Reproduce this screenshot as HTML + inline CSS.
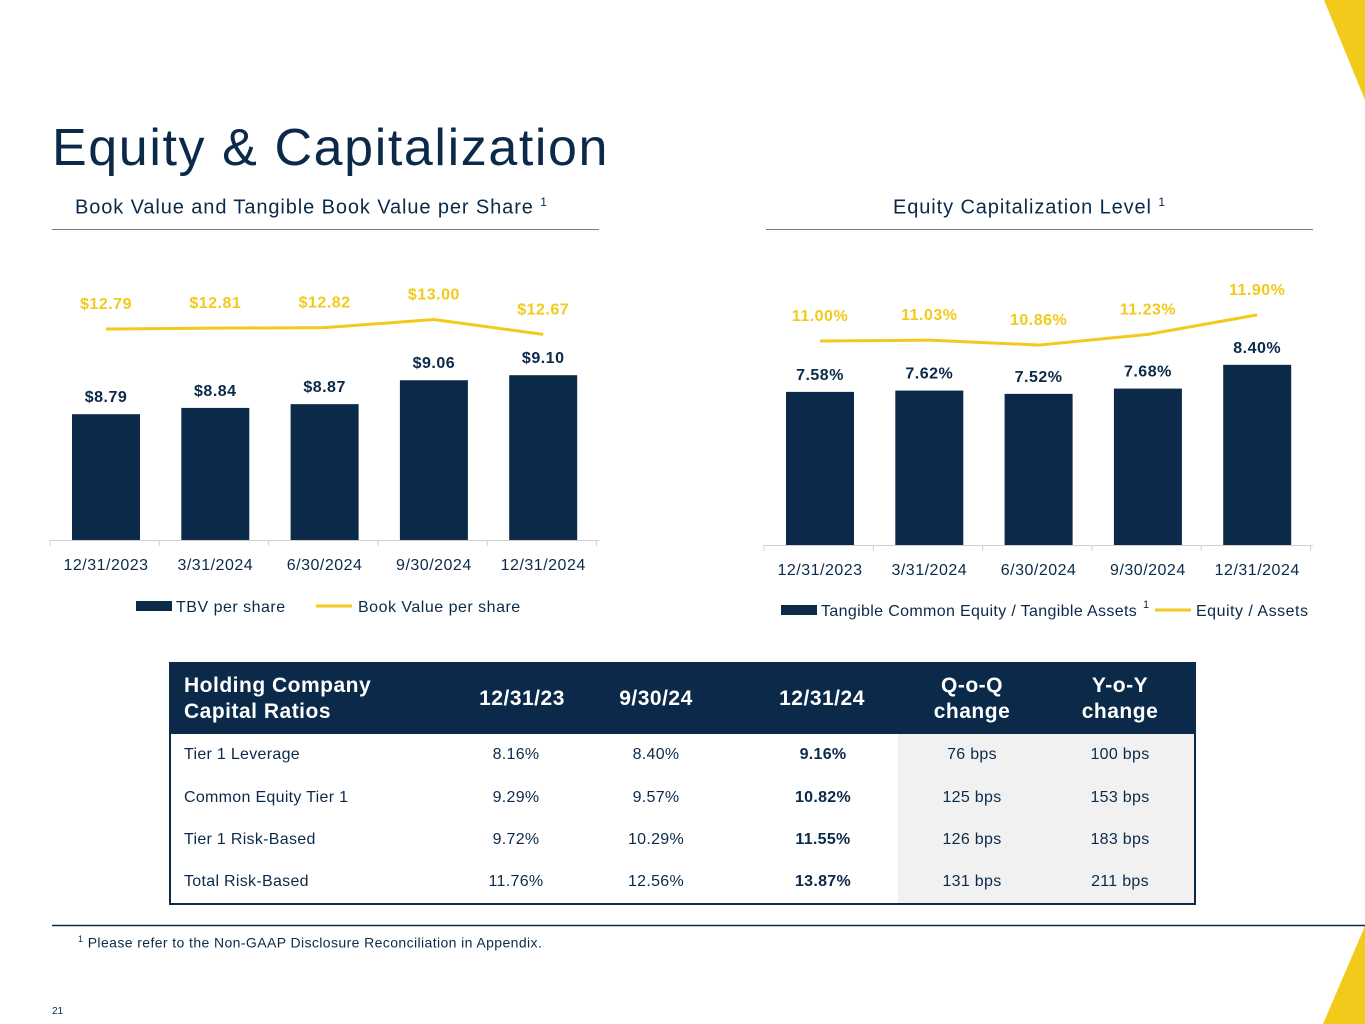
<!DOCTYPE html>
<html><head><meta charset="utf-8"><style>
body{margin:0;width:1365px;height:1024px;position:relative;overflow:hidden;background:#fff;font-family:"Liberation Sans",sans-serif;color:#0b2a4a}
.abs{position:absolute}
table{border-collapse:collapse;table-layout:fixed}
td,th{padding:0}
</style></head><body>
<svg class="abs" style="left:0;top:0" width="1365" height="1024">
<polygon points="1324,0 1365,0 1365,100" fill="#f2ca1b"/>
<polygon points="1365,926 1365,1024 1323,1024" fill="#f2ca1b"/>
<line x1="52" y1="925.5" x2="1365" y2="925.5" stroke="#0b2a4a" stroke-width="1.5"/>
<line x1="52" y1="229.5" x2="599" y2="229.5" stroke="#6b7f93" stroke-width="1"/>
<line x1="766" y1="229.5" x2="1313" y2="229.5" stroke="#6b7f93" stroke-width="1"/>
</svg>
<div class="abs" style="left:52px;top:118px;font-size:52px;letter-spacing:1.6px;color:#0b2a4a">Equity &amp; Capitalization</div>
<div class="abs" style="left:75px;top:195px;font-size:20px;letter-spacing:0.9px">Book Value and Tangible Book Value per Share <sup style="font-size:12px">1</sup></div>
<div class="abs" style="left:893px;top:195px;font-size:20px;letter-spacing:0.9px">Equity Capitalization Level <sup style="font-size:12px">1</sup></div>
<svg id="charts" class="abs" style="left:0;top:0" width="1365" height="660"></svg>
<table class="abs" style="left:169px;top:662px;width:1027px;border:2px solid #0b2a4a;font-size:16px;letter-spacing:0.3px">
<colgroup><col style="width:288px"><col style="width:128px"><col style="width:140px"><col style="width:172px"><col style="width:148px"><col></colgroup>
<tr style="background:#0b2a4a;color:#fff;height:71px;font-weight:bold;font-size:21px;letter-spacing:0.5px">
<th style="text-align:left;padding-left:13px;line-height:26px">Holding Company<br>Capital Ratios</th><th>12/31/23</th><th>9/30/24</th><th style="padding-left:20px">12/31/24</th><th style="line-height:26px">Q-o-Q<br>change</th><th style="line-height:26px">Y-o-Y<br>change</th></tr>
<tbody id="tb"></tbody></table>
<div class="abs" style="left:78px;top:934px;font-size:14px;letter-spacing:0.4px"><sup style="font-size:9px">1</sup> Please refer to the Non-GAAP Disclosure Reconciliation in Appendix.</div>
<div class="abs" style="left:52px;top:1006px;font-size:10px">21</div>
<script>
const cats=["12/31/2023","3/31/2024","6/30/2024","9/30/2024","12/31/2024"];
const tbv=[8.79,8.84,8.87,9.06,9.10];
const bvps=[12.79,12.81,12.82,13.00,12.67];
const tce=[7.58,7.62,7.52,7.68,8.40];
const eqa=[11.00,11.03,10.86,11.23,11.90];
const rowLabels=["Tier 1 Leverage","Common Equity Tier 1","Tier 1 Risk-Based","Total Risk-Based"];
const col23=["8.16%","9.29%","9.72%","11.76%"];
const col924=["8.40%","9.57%","10.29%","12.56%"];
const col1224=["9.16%","10.82%","11.55%","13.87%"];
const qoq=["76 bps","125 bps","126 bps","131 bps"];
const yoy=["100 bps","153 bps","183 bps","211 bps"];
const NS="http://www.w3.org/2000/svg",svg=document.getElementById('charts');
const NAVY="#0b2a4a",YEL="#f2ca1b";
function mk(t,a,p){const e=document.createElementNS(NS,t);for(const k in a)e.setAttribute(k,a[k]);(p||svg).appendChild(e);return e}
function txt(x,y,s,o){const e=mk('text',Object.assign({x:x,y:y,'text-anchor':'middle','font-family':'Liberation Sans, sans-serif','font-size':16,'letter-spacing':'0.5'},o||{}));e.textContent=s;return e}
function chart(c){
 const xs=i=>c.x0+i*109.3;
 const yb=v=>c.base-(v-c.bmin)*c.bs;
 const yl=v=>c.ly0-(v-c.lref)*c.ls;
 mk('line',{x1:c.x0-56,x2:c.x0+4*109.3+56,y1:c.base+0.5,y2:c.base+0.5,stroke:'#d0d0d0'});
 for(let i=0;i<=5;i++)mk('line',{x1:c.x0-56+i*109.3,x2:c.x0-56+i*109.3,y1:c.base,y2:c.base+6,stroke:'#d0d0d0'});
 c.bars.forEach((v,i)=>{
  const r=mk('rect',{x:xs(i)-34,y:yb(v),width:68,height:c.base-yb(v),fill:NAVY});
  
  const t=txt(xs(i),yb(v)-12,c.fmt(v),{'font-weight':'bold',fill:NAVY});
  
  const ct=txt(xs(i),c.base+30,cats[i],{fill:NAVY});
  
 });
 const pl=mk('polyline',{points:c.line.map((v,i)=>xs(i)+','+yl(v)).join(' '),fill:'none',stroke:YEL,'stroke-width':3});
 
 c.line.forEach((v,i)=>{const t=txt(xs(i),yl(v)-20,c.lfmt(v),{'font-weight':'bold',fill:YEL});
  });
}
chart({x0:106,base:540,bmin:7.79,bs:125.8,ly0:329,lref:12.79,ls:45,bars:tbv,line:bvps,fmt:v=>'$'+v.toFixed(2),lfmt:v=>'$'+v.toFixed(2)});
chart({x0:820,base:545,bmin:2.94,bs:33,ly0:341,lref:11.00,ls:29,bars:tce,line:eqa,fmt:v=>v.toFixed(2)+'%',lfmt:v=>v.toFixed(2)+'%'});
// legends
mk('rect',{x:136,y:601,width:36,height:10,fill:NAVY});
txt(176,612,"TBV per share",{'text-anchor':'start',fill:NAVY});
mk('line',{x1:316,x2:352,y1:606,y2:606,stroke:YEL,'stroke-width':3});
txt(358,612,"Book Value per share",{'text-anchor':'start',fill:NAVY});
mk('rect',{x:781,y:605,width:36,height:10,fill:NAVY});
txt(821,616,"Tangible Common Equity / Tangible Assets",{'text-anchor':'start',fill:NAVY,'letter-spacing':'0.35'});
txt(1143,608,"1",{'text-anchor':'start',fill:NAVY,'font-size':11});
mk('line',{x1:1155,x2:1191,y1:610,y2:610,stroke:YEL,'stroke-width':3});
txt(1196,616,"Equity / Assets",{'text-anchor':'start',fill:NAVY,'letter-spacing':'0.5'});
const tb=document.getElementById('tb');
rowLabels.forEach((l,i)=>{
 const tr=document.createElement('tr');tr.style.height='42.5px';
 
 
 tr.innerHTML=`<td style="padding-left:13px">${l}</td><td style="text-align:center;padding-right:12px">${col23[i]}</td><td style="text-align:center">${col924[i]}</td><td style="text-align:center;font-weight:bold;padding-left:22px">${col1224[i]}</td><td style="text-align:center;background:#f1f1f1">${qoq[i]}</td><td style="text-align:center;background:#f1f1f1">${yoy[i]}</td>`;
 tb.appendChild(tr);
});
</script>
</body></html>
